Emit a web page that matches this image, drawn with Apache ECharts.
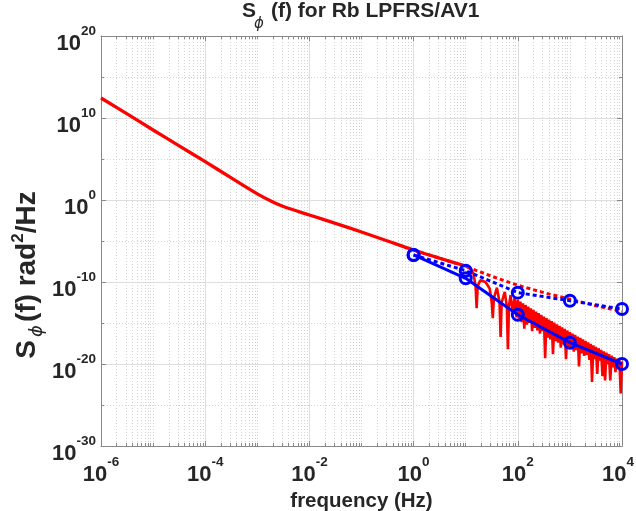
<!DOCTYPE html>
<html><head><meta charset="utf-8">
<script src="https://cdn.jsdelivr.net/npm/echarts@6/dist/echarts.min.js"></script>
<style>html,body{margin:0;padding:0;background:#fff;overflow:hidden}#c{width:636px;height:511px}</style>
</head><body><div id="c"></div>
<script>
// All values are log10 exponents
// Red solid PSD curve, smooth part (log10 f [Hz], log10 S [rad^2/Hz])
const redSmoothLogF = [-6,-5.5,-5,-4.5,-4,-3.5,-3,-2.7,-2.5,-2,-1.5,-1,-0.5,0,0.5,1.0];
const redSmoothLogS = [12.44,10.5,8.54,6.6,4.67,2.7,0.75,-0.25,-0.8,-1.83,-2.85,-3.9,-5.0,-6.1,-7.1,-8.05];
// Red solid PSD curve, notched part above 10 Hz
const redNotchLogF = [1.1,1.15,1.19,1.21,1.23,1.28,1.38,1.46,1.5,1.52,1.54,1.6,1.65,1.67,1.69,1.75,1.79,1.81,1.83,1.86,1.9,1.94,1.975,
 2.000,2.025,2.050,2.075,2.100,2.125,2.150,2.175,2.200,2.225,2.250,2.275,2.300,2.325,2.350,2.375,2.400,2.425,2.450,2.475,
 2.500,2.525,2.550,2.575,2.600,2.625,2.650,2.675,2.700,2.725,2.750,2.775,2.800,2.825,2.850,2.875,2.900,2.925,2.950,2.975,
 3.000,3.025,3.050,3.075,3.100,3.125,3.150,3.175,3.200,3.225,3.250,3.275,3.300,3.325,3.350,3.375,3.400,3.425,3.450,3.475,
 3.500,3.525,3.550,3.575,3.600,3.625,3.650,3.675,3.700,3.725,3.750,3.775,3.800,3.825,3.850,3.875,3.900,3.925,3.950,3.975,4.000];
const redNotchLogS = [-8.4,-9.0,-10.5,-13.2,-10.5,-9.8,-10.0,-10.8,-12.5,-14.4,-12.0,-10.7,-12.5,-16.7,-12.5,-11.2,-13.0,-18.2,-13.0,-11.6,-13.5,-11.9,-14.3,
 -12.2,-14.6,-12.4,-14.9,-12.6,-15.7,-12.8,-15.2,-13.0,-15.0,-13.2,-16.0,-13.4,-15.6,-13.6,-15.9,-13.8,-16.3,-14.0,-16.0,
 -14.2,-19.3,-14.39,-16.8,-14.58,-17.0,-14.77,-18.8,-14.96,-17.2,-15.15,-17.4,-15.34,-18.0,-15.53,-17.6,-15.72,-19.4,-15.91,-18.0,
 -16.1,-18.2,-16.28,-18.5,-16.46,-18.3,-16.64,-20.3,-16.82,-18.7,-17.0,-19.0,-17.18,-18.9,-17.36,-19.5,-17.54,-22.2,-17.72,-19.4,
 -17.9,-21.2,-18.08,-19.6,-18.26,-21.5,-18.44,-22.0,-18.62,-20.0,-18.8,-22.0,-18.98,-20.4,-19.16,-21.0,-19.34,-20.6,-19.52,-23.6,-19.7];
// Red dotted curve
const redDotLogF = [0,0.5,1,1.5,2,2.5,3,3.5,4];
const redDotLogS = [-6.1,-7.1,-8.1,-9.3,-10.4,-11.3,-12.1,-12.9,-13.6];
// Blue curves with circle markers
const blueLogF = [0,1,2,3,4];
const blueSolidLogS = [-6.7,-9.55,-14.0,-17.4,-20.0];
const blueDotLogS = [-6.7,-8.62,-11.3,-12.28,-13.3];
// Axis ticks (exponents)
const xTickExp = [-6,-4,-2,0,2,4];
const yTickExp = [-30,-20,-10,0,10,20];

const zip = (a,b) => a.map((v,i)=>[v,b[i]]);
const FONT = "'Liberation Sans', Arial, Helvetica, sans-serif";
const TXT = '#262626';
const AXC = '#888888';

const xMinor = [];
for (let n = xTickExp[0]; n < xTickExp[xTickExp.length-1]; n++) {
  if (n % 2 !== 0) xMinor.push(n);
  for (let k = 2; k <= 9; k++) xMinor.push(n + Math.log10(k));
}
const yMinor = [];
for (let i = 0; i < yTickExp.length-1; i++) yMinor.push((yTickExp[i]+yTickExp[i+1])/2);

const XMIN = xTickExp[0], XMAX = xTickExp[xTickExp.length-1];
const YMIN = yTickExp[0], YMAX = yTickExp[yTickExp.length-1];
const bStyle = {fontSize:22, fontWeight:'bold', color:TXT, fontFamily:FONT, padding:[16,0,0,0]};
const sStyle = {fontSize:13.5, fontWeight:'bold', color:TXT, fontFamily:FONT, padding:[0,0,9,0]};
const richLbl = {
  b:bStyle, s:sStyle,
  s2:Object.assign({}, sStyle, {padding:[0,8,9,0]})
};
const xFmt = v => v === XMAX ? '{b|10}{s2|' + v + '}' : '{b|10}{s|' + v + '}';
const yFmt = v => '{b|10}{s|' + v + '}';

function xAx(pos, minor, extra) {
  return Object.assign({
    type:'value', position:pos, min:XMIN, max:XMAX, interval:2,
    axisLine:{show:!minor, onZero:false, lineStyle:{color:AXC, width:1}},
    axisTick:minor ? {show:true, inside:true, length:3, customValues:xMinor, lineStyle:{color:AXC}}
                   : {show:true, inside:true, length:5, lineStyle:{color:AXC}},
    axisLabel:{show:false},
    splitLine:{show:false}
  }, extra||{});
}
function yAx(pos, minor, extra) {
  return Object.assign({
    type:'value', position:pos, min:YMIN, max:YMAX, interval:10,
    axisLine:{show:!minor, onZero:false, lineStyle:{color:AXC, width:1}},
    axisTick:minor ? {show:true, inside:true, length:3, customValues:yMinor, lineStyle:{color:AXC}}
                   : {show:true, inside:true, length:5, lineStyle:{color:AXC}},
    axisLabel:{show:false},
    splitLine:{show:false}
  }, extra||{});
}

const option = {
  animation:false,
  backgroundColor:'#ffffff',
  grid:{left:101, top:36, right:14, bottom:65, containLabel:false, outerBoundsMode:'none'},
  xAxis:[
    xAx('bottom', false, {
      axisLabel:{show:true, formatter:xFmt, rich:richLbl, margin:2, showMinLabel:true, showMaxLabel:true, hideOverlap:false},
      splitLine:{show:true, lineStyle:{color:'#dedede', width:1}},
      name:'frequency (Hz)', nameLocation:'middle', nameGap:40,
      nameTextStyle:{fontSize:20.5, fontWeight:'bold', color:TXT, fontFamily:FONT}
    }),
    xAx('bottom', true, {splitLine:{show:true, lineStyle:{color:'#d4d4d4', width:1, type:[1,2]}}}),
    xAx('top', false),
    xAx('top', true)
  ],
  yAxis:[
    yAx('left', false, {
      axisLabel:{show:true, formatter:yFmt, rich:richLbl, margin:5, showMinLabel:true, showMaxLabel:true, hideOverlap:false},
      splitLine:{show:true, lineStyle:{color:'#dedede', width:1}}
    }),
    yAx('left', true, {splitLine:{show:true, lineStyle:{color:'#d4d4d4', width:1, type:[1,2]}}}),
    yAx('right', false),
    yAx('right', true)
  ],
  series:[
    {type:'line', name:'redSmooth', data:zip(redSmoothLogF, redSmoothLogS), showSymbol:false, symbol:'none', smooth:0.35,
     lineStyle:{color:'#ff0000', width:3.3, join:'round'}},
    {type:'line', name:'redNotch', data:zip([redSmoothLogF[redSmoothLogF.length-1]].concat(redNotchLogF), [redSmoothLogS[redSmoothLogS.length-1]].concat(redNotchLogS)),
     showSymbol:false, symbol:'none', lineStyle:{color:'#ff0000', width:2.6, join:'bevel'}},
    {type:'line', name:'redDot', data:zip(redDotLogF, redDotLogS), showSymbol:false, symbol:'none',
     lineStyle:{color:'#ff0000', width:3, type:[4,3]}},
    {type:'line', name:'blueSolid', data:zip(blueLogF, blueSolidLogS), symbol:'circle', symbolSize:11,
     itemStyle:{color:'rgba(255,255,255,0)', borderColor:'#0000ff', borderWidth:3},
     lineStyle:{color:'#0000ff', width:3}},
    {type:'line', name:'blueDot', data:zip(blueLogF, blueDotLogS), symbol:'circle', symbolSize:11,
     itemStyle:{color:'rgba(255,255,255,0)', borderColor:'#0000ff', borderWidth:3},
     lineStyle:{color:'#0000ff', width:3, type:[4,3]}}
  ],
  graphic:[
    {type:'text', left:242, top:1, style:{text:'S', font:"bold 21px "+FONT, fill:TXT}},
    {type:'text', left:254, top:17, style:{text:'ϕ', font:"italic 15px 'DejaVu Sans', "+FONT, fill:TXT}},
    {type:'text', left:271, top:1, style:{text:'(f) for Rb LPFRS/AV1', font:"bold 21px "+FONT, fill:TXT}},
    {type:'text', x:27, y:275, rotation:Math.PI/2,
     style:{text:'{b|S}{sub|ϕ}{b|(f) rad}{sup|2}{b|/Hz}', align:'center', verticalAlign:'middle',
       rich:{
         b:{fontSize:28, fontWeight:'bold', fill:TXT, fontFamily:FONT},
         sub:{fontSize:18, fontStyle:'italic', fill:TXT, fontFamily:"'DejaVu Sans', "+FONT, padding:[20,3,0,3]},
         sup:{fontSize:17, fontWeight:'bold', fill:TXT, fontFamily:FONT, padding:[0,0,18,0]}
       }}}
  ]
};
const chart = echarts.init(document.getElementById('c'), null, {renderer:'canvas'});
chart.setOption(option);
</script></body></html>
